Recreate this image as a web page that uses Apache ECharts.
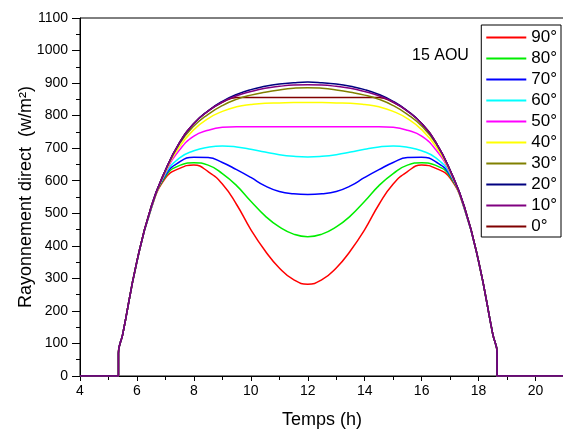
<!DOCTYPE html>
<html>
<head>
<meta charset="utf-8">
<script src="https://cdn.jsdelivr.net/npm/echarts@6/dist/echarts.min.js"></script>
<style>
  html, body { margin: 0; padding: 0; background: #fff; }
  #chart { width: 563px; height: 429px; }
</style>
</head>
<body>
<div id="chart"></div>
<script>
var chart = echarts.init(document.getElementById('chart'));

// heures (h)
var times = [4, 5.35, 5.35, 5.5, 6, 6.5, 7, 7.5, 8, 8.5, 9, 9.5, 10, 10.5, 11, 11.5, 12,
  12.5, 13, 13.5, 14, 14.5, 15, 15.5, 16, 16.5, 17, 17.5, 18, 18.5, 18.65, 18.65, 21];

var tilt90 = [0,0,70, 128,351,514,608,638,648,628,590,527,450,385,332,296,282,
  296,332,385,450,527,590,628,648,638,608,514,351,128, 70,0,0];
var tilt80 = [0,0,70, 128,351,515,613,647,655,648,622,585,537,492,458,436,428,
  436,458,492,537,585,622,648,655,647,613,515,351,128, 70,0,0];
var tilt70 = [0,0,70, 128,352,516,617,658,672,671,656,634,610,584,567,560,558,
  560,567,584,610,634,656,671,672,658,617,516,352,128, 70,0,0];
var tilt60 = [0,0,70, 128,352,517,621,670,692,703,707,704,697,688,680,675,673,
  675,680,688,697,704,707,703,692,670,621,517,352,128, 70,0,0];
var tilt50 = [0,0,70, 128,352,518,625,695,737,755,764,766,766,766,766,766,766,
  766,766,766,766,766,764,755,737,695,625,518,352,128, 70,0,0];
var tilt40 = [0,0,70, 128,353,519,628,705,757,791,813,827,834,838,839,840,840,
  840,839,838,834,827,813,791,757,705,628,519,353,128, 70,0,0];
var tilt30 = [0,0,70, 128,353,520,631,714,768,804,831,850,863,872,879,884,886,
  884,879,872,863,850,831,804,768,714,631,520,353,128, 70,0,0];
var tilt20 = [0,0,70, 128,353,520,632,718,776,815,844,865,880,890,897,901,903,
  901,897,890,880,865,844,815,776,718,632,520,353,128, 70,0,0];
var tilt10 = [0,0,70, 128,353,520,632,718,776,814,842,861,874,884,890,894,895,
  894,890,884,874,861,842,814,776,718,632,520,353,128, 70,0,0];
var tilt0 = [0,0,70, 128,353,520,632,718,776,814,841,856,856,856,856,856,856,
  856,856,856,856,856,841,814,776,718,632,520,353,128, 70,0,0];

var names = ['90°','80°','70°','60°','50°','40°','30°','20°','10°','0°'];
var values = [tilt90, tilt80, tilt70, tilt60, tilt50, tilt40, tilt30, tilt20, tilt10, tilt0];
var colors = ['#ff0000','#00ee00','#0000ff','#00ffff','#ff00ff','#ffff00','#808000','#000080','#800080','#800000'];

// ordre de tracé : 0° d'abord, 10° au-dessus
var drawOrder = [9, 0, 1, 2, 3, 4, 5, 6, 7, 8];
var series = drawOrder.map(function (i) {
  return {
    name: names[i],
    type: 'line',
    data: times.map(function (t, k) { return [t, values[i][k]]; }),
    smooth: 0.5,
    symbol: 'none',
    lineStyle: { color: colors[i], width: 1.5 },
    itemStyle: { color: colors[i] }
  };
});

var font = 'Liberation Sans, Arial, sans-serif';

var option = {
  animation: false,
  textStyle: { fontFamily: font },
  grid: {
    left: 80, right: -1, top: 18, bottom: 53,
    outerBoundsMode: 'none',
    show: true, borderColor: '#000', borderWidth: 1
  },
  legend: {
    data: names,
    orient: 'vertical',
    right: 2, top: 25,
    backgroundColor: '#fff',
    borderColor: '#000', borderWidth: 1,
    padding: [2, 4, 0, 5],
    icon: 'rect',
    itemWidth: 40, itemHeight: 2, itemGap: 0,
    textStyle: { fontSize: 17, color: '#000', lineHeight: 21 }
  },
  graphic: [{
    type: 'text', left: 412, top: 48,
    style: { text: '15 AOU', fontSize: 16, fill: '#000', fontFamily: font }
  }],
  xAxis: {
    type: 'value', min: 4, max: 21, interval: 2,
    name: 'Temps (h)', nameLocation: 'middle', nameGap: 35,
    nameMoveOverlap: false,
    nameTextStyle: { fontSize: 18, color: '#000' },
    axisLine: { lineStyle: { color: '#000', width: 1 } },
    axisTick: { show: true, length: 5, lineStyle: { color: '#000' } },
    minorTick: { show: true, splitNumber: 2, length: 4, lineStyle: { color: '#000' } },
    axisLabel: { fontSize: 14, color: '#000', margin: 8, showMaxLabel: false },
    splitLine: { show: false }
  },
  yAxis: {
    type: 'value', min: 0, max: 1100, interval: 100,
    name: 'Rayonnement direct  (w/m²)', nameLocation: 'middle', nameGap: 45,
    nameMoveOverlap: false,
    nameTextStyle: { fontSize: 18, color: '#000' },
    axisLine: { show: true, lineStyle: { color: '#000', width: 1 } },
    axisTick: { show: true, length: 8, lineStyle: { color: '#000' } },
    minorTick: { show: true, splitNumber: 2, length: 4, lineStyle: { color: '#000' } },
    axisLabel: { fontSize: 14, color: '#000', margin: 12, formatter: function (v) { return String(v); } },
    splitLine: { show: false }
  },
  series: series
};

chart.setOption(option);
</script>
</body>
</html>
